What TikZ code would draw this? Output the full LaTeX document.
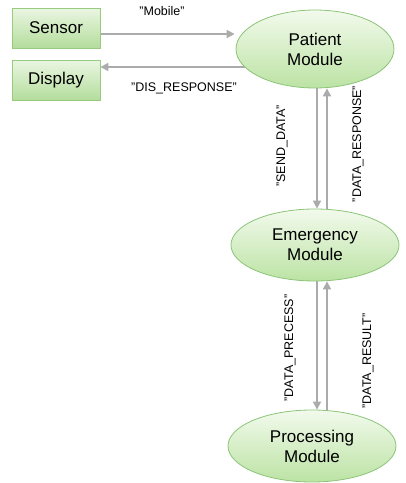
\documentclass[tikz,border=0pt]{standalone}
\usepackage{fontspec}
\setmainfont{Liberation Sans}
\usetikzlibrary{arrows.meta,calc,backgrounds}
\definecolor{boxtop}{HTML}{EAF6E2}
\definecolor{boxbot}{HTML}{B4DD9C}
\definecolor{boxline}{HTML}{96CB80}
\definecolor{elltop}{HTML}{F2FAEC}
\definecolor{ellbot}{HTML}{BCE3A4}
\definecolor{ellline}{HTML}{8CC478}
\definecolor{arrgray}{HTML}{ABABAB}
\tikzset{
  greenbox/.style={rectangle, draw=boxline, line width=0.8pt, top color=boxtop, bottom color=boxbot,
    minimum width=88pt, minimum height=40pt, inner sep=0pt, font=\fontsize{17}{20}\selectfont},
  greenell/.style={ellipse, draw=ellline, line width=0.8pt, top color=elltop, bottom color=ellbot,
    inner sep=0pt, align=center, font=\fontsize{17}{20}\selectfont},
  arr/.style={draw=arrgray, line width=1.8pt, -{Triangle[length=8pt,width=8pt]}},
  lbl/.style={font=\fontsize{12.5}{14}\selectfont, inner sep=0pt},
}
\usetikzlibrary{shapes.geometric}
\begin{document}
\begin{tikzpicture}[x=1pt,y=-1pt]
\useasboundingbox (0,0) rectangle (406,483);
\node[greenbox] (sensor) at (56,28) {Sensor};
\node[greenbox] (display) at (56,80) {Display};
\node[greenell, minimum width=158pt, minimum height=78pt] (pat) at (315,49) {Patient\\Module};
\node[greenell, minimum width=168pt, minimum height=72pt] (emg) at (315,245) {Emergency\\Module};
\node[greenell, minimum width=168pt, minimum height=72pt] (proc) at (312,446) {Processing\\Module};

\begin{scope}[on background layer]
\coordinate (s1) at ($(sensor.east)+(0,-6pt)$);
\coordinate (d1) at ($(display.east)+(0,13pt)$);
\draw[arr] (s1) -- ($(s1 -| pat.west)+(-1pt,0)$);
\draw[arr] ($(d1 -| pat.west)+(9pt,0)$) -- (d1);
\draw[arr] ($(pat.south)+(2pt,0)$) -- ($(emg.north)+(2pt,0)$);
\draw[arr] ($(emg.north)+(12pt,0)$) -- ($(pat.south)+(12pt,0)$);
\draw[arr] ($(emg.south)+(2pt,0)$) -- ($(proc.north)+(5pt,0)$);
\draw[arr] ($(proc.north)+(15pt,0)$) -- ($(emg.south)+(12pt,0)$);
\end{scope}

\node[lbl] (lmob) at (162,11) {"Mobile"};
\node[lbl] (ldis) at (184,88) {"DIS\_RESPONSE"};
\node[lbl, rotate=90] (lsend) at (282,146) {"SEND\_DATA"};
\node[lbl, rotate=90] (lresp) at (358,144) {"DATA\_RESPONSE"};
\node[lbl, rotate=90] (lprec) at (290,348) {"DATA\_PRECESS"};
\node[lbl, rotate=90] (lres) at (368,361) {"DATA\_RESULT"};
\end{tikzpicture}
\end{document}
